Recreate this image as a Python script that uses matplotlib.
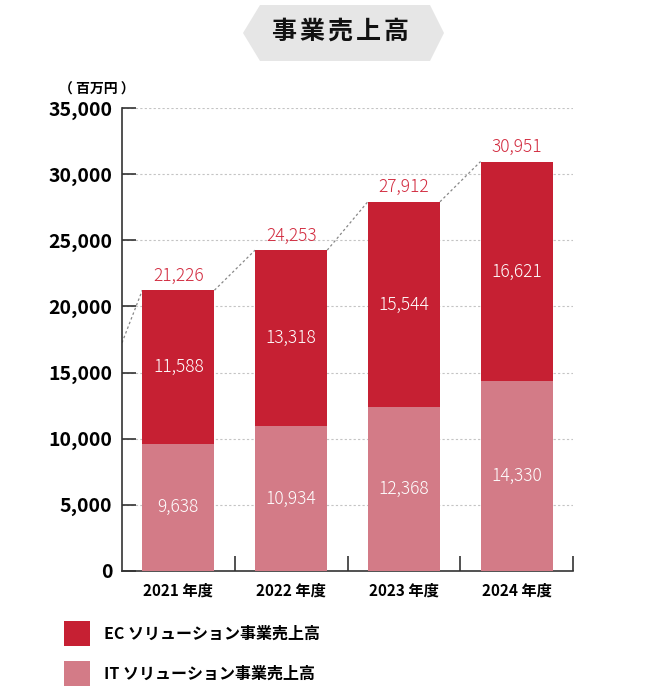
import numpy as np
import matplotlib
matplotlib.use('Agg')
import matplotlib.pyplot as plt
from matplotlib.patches import Polygon, Rectangle

plt.rcParams['font.family'] = ['Noto Sans CJK JP', 'DejaVu Sans']
plt.rcParams['axes.unicode_minus'] = False

# データ（百万円）
years = ['2021 年度', '2022 年度', '2023 年度', '2024 年度']
it_sales = [9638, 10934, 12368, 14330]
ec_sales = [11588, 13318, 15544, 16621]
totals = [21226, 24253, 27912, 30951]
prev_total = 17250  # 左端から伸びる点線の始点（前年度の目安）

ec_color = '#C62033'
it_color = '#D37B87'
total_color = '#D22A3E'

fig = plt.figure(figsize=(6.71, 7.0), dpi=100)
ax = fig.add_axes([122 / 671, 1 - 571 / 700, 451 / 671, 463 / 700])

x = np.arange(len(years))
w = 0.64
ax.bar(x, it_sales, width=w, color=it_color, label='IT ソリューション事業売上高', zorder=3)
ax.bar(x, ec_sales, width=w, bottom=it_sales, color=ec_color, label='EC ソリューション事業売上高', zorder=3)

# 棒の中の数値
for i in range(len(years)):
    ax.text(x[i], it_sales[i] / 2, f'{it_sales[i]:,}', ha='center', va='center',
            color='white', fontsize=12.5, fontweight='light', zorder=4)
    ax.text(x[i], it_sales[i] + ec_sales[i] / 2, f'{ec_sales[i]:,}', ha='center', va='center',
            color='white', fontsize=12.5, fontweight='light', zorder=4)
    ax.annotate(f'{totals[i]:,}', (x[i], totals[i]), xytext=(0, 4), textcoords='offset points',
                ha='center', va='bottom', color=total_color, fontsize=12.5, fontweight='light')

# 点線（棒の上端をつなぐ）
line_kw = dict(color='#888888', linestyle=(0, (2, 2)), linewidth=0.9, zorder=2)
ax.plot([-0.5, x[0] - w / 2], [prev_total, totals[0]], **line_kw)
for i in range(len(years) - 1):
    ax.plot([x[i] + w / 2, x[i + 1] - w / 2], [totals[i], totals[i + 1]], **line_kw)

ax.set_xlim(-0.5, 3.5)
ax.set_ylim(0, 35000)
ax.set_yticks(np.arange(0, 35001, 5000))
ax.set_yticklabels([f'{v:,}' for v in range(0, 35001, 5000)], fontsize=14, fontweight='bold')
ax.tick_params(axis='y', direction='in', length=10, width=1.2, color='#333333', pad=7)

ax.set_xticks(x)
ax.set_xticklabels(years, fontsize=11, fontweight='bold')
ax.set_xticks([0.5, 1.5, 2.5, 3.5], minor=True)
ax.tick_params(axis='x', which='major', length=0, pad=8)
ax.tick_params(axis='x', which='minor', direction='in', length=11, width=1.2, color='#333333')

for yv in range(5000, 35001, 5000):
    ax.axhline(yv, color='#C4C4C4', linestyle=(0, (2, 2)), linewidth=0.8, zorder=1)

for s in ['top', 'right']:
    ax.spines[s].set_visible(False)
for s in ['left', 'bottom']:
    ax.spines[s].set_color('#333333')
    ax.spines[s].set_linewidth(1.2)

fig.text(97 / 671, 1 - 90 / 700, '（ 百万円 ）', ha='center', va='center', fontsize=10, fontweight='bold')

# タイトルの六角形
hexa = [(243, 33), (260, 5), (430, 5), (444, 33), (430, 61), (260, 61)]
fig.patches.append(Polygon([(px / 671, 1 - py / 700) for px, py in hexa], closed=True,
                           transform=fig.transFigure, facecolor='#E6E6E6', edgecolor='none'))
for k, ch in enumerate('事業売上高'):
    fig.text((284 + 28 * k) / 671, 1 - 32 / 700, ch, ha='center', va='center',
             fontsize=18, fontweight='bold', color='#111111')

# 凡例（四角とラベル）
legend_items = [('EC ソリューション事業売上高', ec_color), ('IT ソリューション事業売上高', it_color)]
for k, (lab, col) in enumerate(legend_items):
    top = 621 + 40 * k
    fig.patches.append(Rectangle((64 / 671, 1 - (top + 25) / 700), 26 / 671, 25 / 700,
                                 transform=fig.transFigure, facecolor=col, edgecolor='none'))
    fig.text(104 / 671, 1 - (top + 13) / 700, lab, ha='left', va='center',
             fontsize=11.5, fontweight='bold')

fig.savefig('out.png', dpi=100)
